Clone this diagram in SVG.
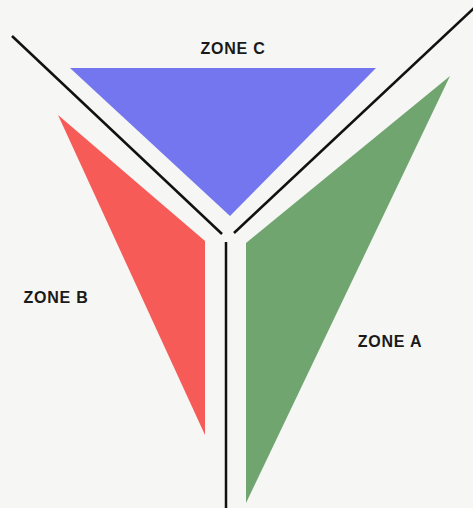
<svg xmlns="http://www.w3.org/2000/svg" width="473" height="508" viewBox="0 0 473 508">
<style>
.zone{stroke:none}
.lbl{font-family:"Liberation Sans",Arial,sans-serif;font-weight:bold;font-size:16px;letter-spacing:0.8px;fill:#1a1a1a;text-anchor:middle}
.wall{stroke:#111;stroke-width:2.5;fill:none;stroke-linecap:butt}
</style>
<rect width="473" height="508" fill="#f6f6f4"/>
<g id="zoneC">
<polygon class="zone" points="70,68 376,68 230,216" fill="#7376ef"/>
<text class="lbl" x="233" y="54">ZONE C</text>
</g>
<g id="zoneB">
<polygon class="zone" points="58,115 205,241 205,435" fill="#f65b57"/>
<text class="lbl" x="56" y="303">ZONE B</text>
</g>
<g id="zoneA">
<polygon class="zone" points="450,76 246,243 246,503" fill="#70a570"/>
<text class="lbl" x="390" y="347">ZONE A</text>
</g>
<g id="connectors">
<line class="wall" x1="12" y1="36" x2="222" y2="234"/>
<line class="wall" x1="474" y1="8" x2="234" y2="233"/>
<line class="wall" x1="226" y1="242" x2="226" y2="508"/>
</g>
</svg>
